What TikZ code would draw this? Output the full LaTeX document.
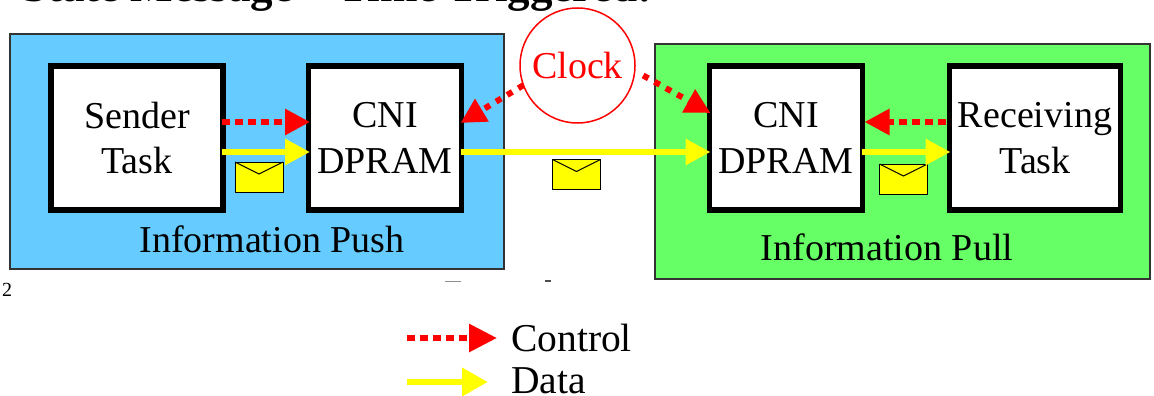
\documentclass[tikz,border=0pt]{standalone}
\usepackage{fontspec}
\setmainfont{Liberation Serif}
\usetikzlibrary{arrows.meta,calc}
\definecolor{pushblue}{HTML}{66CCFF}
\definecolor{pullgreen}{HTML}{66FF66}
\definecolor{datayellow}{HTML}{FFFF00}
\definecolor{ctlred}{HTML}{FF0000}
\tikzset{
  zone/.style={draw=black!80,line width=1.2pt,outer sep=0pt,inner sep=0pt,anchor=north west},
  taskbox/.style={draw=black,fill=white,line width=5.5pt,outer sep=0pt,inner sep=0pt,anchor=north west,align=center,font=\fontsize{38}{45.5}\selectfont},
  ctl/.style={draw=ctlred,line width=6pt,dash pattern=on 7.5pt off 5.5pt,-{Triangle[length=25pt,width=25pt,fill=ctlred]}},
  ctldiag/.style={ctl,dash pattern=on 6pt off 7pt},
  ctlbig/.style={ctl,-{Triangle[length=28pt,width=27pt,fill=ctlred]}},
  dat/.style={draw=datayellow,line width=6.5pt,-{Triangle[length=25pt,width=25pt,fill=datayellow]}},
  labeltext/.style={anchor=base,inner sep=0pt,font=\fontsize{38}{44}\selectfont},
  envbody/.style={draw=black,fill=datayellow,line width=1pt,minimum width=48pt,minimum height=30pt,inner sep=0pt,outer sep=0pt,anchor=north west},
  envflap/.style={draw=black,line width=1pt},
}
\newcommand{\envelopeat}[3]{%
  \node[envbody] (#1) at (#2,#3) {};
  \draw[envflap] (#1.north west) -- ([yshift=-12pt]#1.north) -- (#1.north east);
}
\begin{document}
\begin{tikzpicture}[x=1pt,y=-1pt]
\useasboundingbox (0,0) rectangle (1154,396);
\clip (0,0) rectangle (1154,396);
\node[anchor=base west,inner sep=0pt,font=\fontsize{45}{50}\selectfont\bfseries] (title) at (22,2) {State Message -- Time Triggered:};
\node[zone,fill=pushblue,minimum width=494pt,minimum height=235pt] (push) at (10,34) {};
\node[zone,fill=pullgreen,minimum width=495pt,minimum height=235pt] (pull) at (655,44) {};
\node[taskbox,minimum width=172pt,minimum height=144pt] (sender) at (51,66) {Sender\\Task};
\node[taskbox,minimum width=153pt,minimum height=144pt] (cnia) at (308.5,66) {CNI\\DPRAM};
\node[taskbox,minimum width=153pt,minimum height=144pt] (cnib) at (709.5,66) {CNI\\DPRAM};
\node[taskbox,minimum width=171pt,minimum height=144pt] (recv) at (949.5,66) {Receiving\\Task};
\node[labeltext] (pushlabel) at (272,252) {Information Push};
\node[labeltext] (pulllabel) at (887,260) {Information Pull};
\node[draw=ctlred,line width=1.5pt,circle,minimum size=115pt,inner sep=0pt,outer sep=0pt,text=ctlred,font=\fontsize{38}{44}\selectfont] (clock) at (577.5,65.5) {Clock};
\envelopeat{enva}{235}{162}
\envelopeat{envb}{552.5}{159.5}
\envelopeat{envc}{879.5}{164}
\draw[ctl] ([yshift=16pt,xshift=-1pt]sender.east) -- ([yshift=16pt,xshift=1.5pt]cnia.west);
\draw[dat] ([yshift=-14pt,xshift=-1pt]sender.east) -- ([yshift=-14pt,xshift=1.5pt]cnia.west);
\draw[dat] ([yshift=-14pt,xshift=-1pt]cnia.east) -- ([yshift=-14pt,xshift=1pt]cnib.west);
\draw[dat] ([yshift=-14pt,xshift=-1pt]cnib.east) -- ([yshift=-14pt,xshift=1pt]recv.west);
\draw[ctl] ([xshift=-4pt,yshift=16pt]recv.west) -- ([yshift=16pt,xshift=2pt]cnib.east);
\draw[ctldiag] (clock.200) -- ([yshift=15pt,xshift=-1pt]cnia.east);
\draw[ctldiag] ([xshift=9pt]clock.-10) -- ([yshift=25pt,xshift=1pt]cnib.west);
\node[anchor=base west,inner sep=0pt,font=\fontsize{20}{22}\selectfont] (pagenum) at (2,296) {2};
\fill[black!45] (445,280.5) rectangle (461,281.5);
\fill[black!70] (545,280) rectangle (551,282);
\coordinate (legca) at (407,338);
\coordinate (legcb) at (497,338);
\coordinate (legda) at (407,382);
\coordinate (legdb) at (488,382);
\draw[ctlbig] (legca) -- (legcb);
\draw[dat,-{Triangle[length=26pt,width=27pt,fill=datayellow]}] (legda) -- (legdb);
\node[anchor=base west,inner sep=0pt,font=\fontsize{39.5}{44}\selectfont] (legc) at (511,351) {Control};
\node[anchor=base west,inner sep=0pt,font=\fontsize{39.5}{44}\selectfont] (legd) at (511,393) {Data};
\end{tikzpicture}
\end{document}
